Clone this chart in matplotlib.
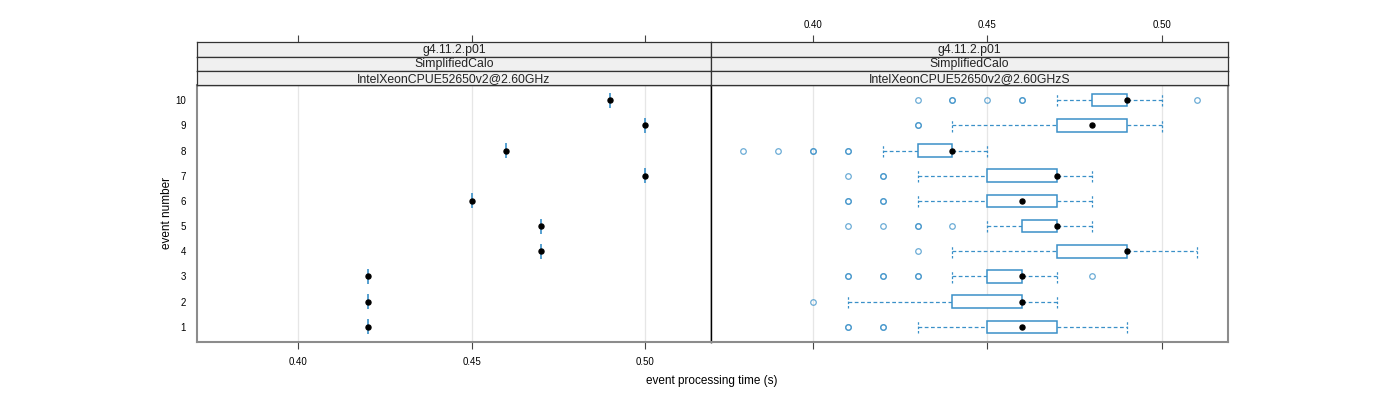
import matplotlib
matplotlib.use("Agg")
import matplotlib.pyplot as plt

plt.rcParams['font.family'] = ['Liberation Sans', 'DejaVu Sans']

# panel strip labels
strip_left = ["g4.11.2.p01", "SimplifiedCalo", "IntelXeonCPUE52650v2@2.60GHz"]
strip_right = ["g4.11.2.p01", "SimplifiedCalo", "IntelXeonCPUE52650v2@2.60GHzS"]

events = [1, 2, 3, 4, 5, 6, 7, 8, 9, 10]

# left panel: single measurement per event
left_times = [0.42, 0.42, 0.42, 0.47, 0.47, 0.45, 0.50, 0.46, 0.50, 0.49]

# right panel: box statistics per event
whisk_lo = [0.43, 0.41, 0.44, 0.44, 0.45, 0.43, 0.43, 0.42, 0.44, 0.47]
box_lo = [0.45, 0.44, 0.45, 0.47, 0.46, 0.45, 0.45, 0.43, 0.47, 0.48]
median = [0.46, 0.46, 0.46, 0.49, 0.47, 0.46, 0.47, 0.44, 0.48, 0.49]
box_hi = [0.47, 0.46, 0.46, 0.49, 0.47, 0.47, 0.47, 0.44, 0.49, 0.49]
whisk_hi = [0.49, 0.47, 0.47, 0.51, 0.48, 0.48, 0.48, 0.45, 0.50, 0.50]
# outliers (value, count)
outliers = [
    [(0.41, 2), (0.42, 2)],
    [(0.40, 1)],
    [(0.41, 2), (0.42, 2), (0.43, 2), (0.48, 1)],
    [(0.43, 1)],
    [(0.41, 1), (0.42, 1), (0.43, 2), (0.44, 1)],
    [(0.41, 2), (0.42, 2)],
    [(0.41, 1), (0.42, 2)],
    [(0.38, 1), (0.39, 1), (0.40, 2), (0.41, 2)],
    [(0.43, 2)],
    [(0.43, 1), (0.44, 2), (0.45, 1), (0.46, 2), (0.51, 1)],
]

xticks = [0.40, 0.45, 0.50]
xlim = (0.3708, 0.519)
ylim = (0.4, 10.6)

blue = "#3a90c8"
border = "#8c8c8c"

fig = plt.figure(figsize=(14, 4), dpi=100)
W, H = 1400.0, 400.0

def fx(px):
    return px / W

def fy(py):
    return 1 - py / H

panels = [(197, 711), (711, 1228)]
plot_top, plot_bot = 85, 342
strip_edges = [42, 56.5, 71, 85]

axes = []
for i, (x0, x1) in enumerate(panels):
    ax = fig.add_axes([fx(x0), fy(plot_bot), fx(x1 - x0), fy(plot_top) - fy(plot_bot)])
    ax.set_xlim(*xlim)
    ax.set_ylim(*ylim)
    ax.set_xticks(xticks)
    for v in xticks:
        ax.axvline(v, color="#e6e6e6", lw=0.9, zorder=0)
    for s in ax.spines.values():
        s.set_color(border)
        s.set_linewidth(1.5)
    ax.spines['top'].set_color("#444444")
    ax.spines['top'].set_linewidth(1.0)
    ax.tick_params(axis='x', direction='out', length=5, width=0.8, color="#444444",
                   labelsize=7, pad=6)
    if i == 0:
        ax.set_yticks(events)
        ax.set_yticklabels([str(e) for e in events], fontsize=7)
        ax.tick_params(axis='y', length=0, pad=8)
        ax.spines['right'].set_color("black")
        ax.spines['right'].set_linewidth(1.0)
        ax.set_xticklabels(["%.2f" % v for v in xticks])
    else:
        ax.set_yticks([])
        ax.set_xticklabels([])
        ax.spines['left'].set_color("black")
        ax.spines['left'].set_linewidth(1.0)
    axes.append(ax)

    labels = strip_left if i == 0 else strip_right
    for k in range(3):
        sa = fig.add_axes([fx(x0), fy(strip_edges[k + 1]), fx(x1 - x0),
                           fy(strip_edges[k]) - fy(strip_edges[k + 1])])
        sa.set_facecolor("#f0f0f0")
        sa.set_xlim(*xlim)
        sa.set_ylim(0, 1)
        sa.set_yticks([])
        for s in sa.spines.values():
            s.set_color("#333333")
            s.set_linewidth(0.9)
        sa.text(0.5, 0.45, labels[k], transform=sa.transAxes, ha='center', va='center',
                fontsize=8.8, color="#222222")
        if k == 0:
            sa.set_xticks(xticks)
            sa.xaxis.tick_top()
            sa.tick_params(axis='x', direction='out', length=5, width=0.8,
                           color="#444444", labelsize=7, pad=4)
            if i == 1:
                sa.set_xticklabels(["%.2f" % v for v in xticks])
            else:
                sa.set_xticklabels([])
        else:
            sa.set_xticks([])

# left panel: points with small error bars
axl = axes[0]
axl.vlines(left_times, [e - 0.3 for e in events], [e + 0.3 for e in events],
           color=blue, lw=1.2, zorder=2)
axl.plot(left_times, events, 'o', color='black', ms=3.6, zorder=3)

# right panel: boxplots
axr = axes[1]
bh = 0.25
for j, e in enumerate(events):
    axr.add_patch(plt.Rectangle((box_lo[j], e - bh), box_hi[j] - box_lo[j], 2 * bh,
                                fill=True, facecolor='white', edgecolor=blue, lw=1.1, zorder=2))
    axr.plot([whisk_lo[j], box_lo[j]], [e, e], ls=(0, (3, 2)), color=blue, lw=0.9, zorder=1)
    axr.plot([box_hi[j], whisk_hi[j]], [e, e], ls=(0, (3, 2)), color=blue, lw=0.9, zorder=1)
    axr.vlines([whisk_lo[j], whisk_hi[j]], e - bh, e + bh, colors=blue, lw=0.9,
               linestyles=(0, (2, 1.5)), zorder=1)
    for v, c in outliers[j]:
        for _ in range(c):
            axr.plot(v, e, 'o', mfc='none', mec=blue, ms=4, mew=0.9, alpha=0.75, zorder=2)
    axr.plot(median[j], e, 'o', color='black', ms=3.6, zorder=3)

fig.text(fx(712), fy(381), "event processing time (s)", ha='center', va='center', fontsize=8.5)
fig.text(fx(167), fy(213), "event number", ha='center', va='center', rotation=90, fontsize=8.5)

fig.savefig("out.png", dpi=100)
